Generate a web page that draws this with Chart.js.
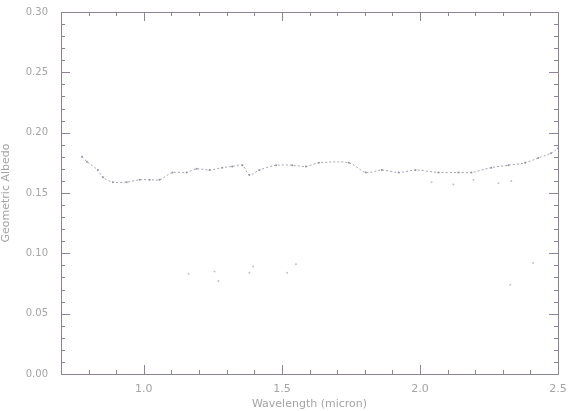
<!DOCTYPE html>
<html>
<head>
<meta charset="utf-8">
<script src="https://cdn.jsdelivr.net/npm/chart.js@4/dist/chart.umd.min.js"></script>
<style>
  html, body { margin: 0; padding: 0; background: #fff; }
  #wrap { width: 568px; height: 411px; }
</style>
</head>
<body>
<div id="wrap"><canvas id="spec"></canvas></div>
<script>
// wavelength (micron) and albedo
const wavelength = [0.776, 0.794, 0.833, 0.852, 0.888, 0.938, 0.985, 1.021, 1.057, 1.104,
  1.155, 1.191, 1.238, 1.284, 1.320, 1.357, 1.382, 1.418, 1.479, 1.537,
  1.587, 1.634, 1.743, 1.804, 1.862, 1.923, 1.984, 2.067, 2.139, 2.186,
  2.258, 2.320, 2.381, 2.428, 2.475, 2.500];
const albedo = [0.180, 0.176, 0.169, 0.163, 0.159, 0.159, 0.161, 0.161, 0.161, 0.167,
  0.167, 0.170, 0.169, 0.171, 0.172, 0.173, 0.165, 0.169, 0.173, 0.173,
  0.172, 0.175, 0.175, 0.167, 0.169, 0.167, 0.169, 0.167, 0.167, 0.167,
  0.171, 0.173, 0.175, 0.179, 0.183, 0.187];

// faint scattered points below the main spectrum
const extraWave = [2.042, 2.121, 2.194, 2.284, 2.331, 1.162, 1.256, 1.270, 1.382, 1.396, 1.519, 1.551, 2.327, 2.410];
const extraVal = [0.159, 0.157, 0.161, 0.158, 0.160, 0.083, 0.085, 0.077, 0.084, 0.089, 0.084, 0.091, 0.074, 0.092];

const xTicks = [1.0, 1.5, 2.0, 2.5];
const yTicks = [0.00, 0.05, 0.10, 0.15, 0.20, 0.25, 0.30];

const ink = "#8c8496";
const textCol = "#a4a4a4";

// box with inward major/minor ticks on all four sides, IDL style
const boxTicks = {
  id: "boxTicks",
  afterDraw(chart) {
    const { ctx, chartArea: a, scales } = chart;
    const x = scales.x, y = scales.y;
    ctx.save();
    ctx.strokeStyle = ink;
    ctx.lineWidth = 1;
    ctx.strokeRect(a.left + 0.5, a.top + 0.5, a.right - a.left, a.bottom - a.top);
    ctx.beginPath();
    for (let v = 0.7; v <= 2.5001; v += 0.1) {
      const px = Math.round(x.getPixelForValue(v)) + 0.5;
      const major = xTicks.some(t => Math.abs(t - v) < 1e-6);
      const len = major ? 9 : 4;
      ctx.moveTo(px, a.bottom); ctx.lineTo(px, a.bottom - len);
      ctx.moveTo(px, a.top); ctx.lineTo(px, a.top + len);
    }
    for (let v = 0; v <= 0.3001; v += 0.01) {
      const py = Math.round(y.getPixelForValue(v)) + 0.5;
      const major = yTicks.some(t => Math.abs(t - v) < 1e-6);
      const len = major ? 9 : 4;
      ctx.moveTo(a.left, py); ctx.lineTo(a.left + len, py);
      ctx.moveTo(a.right, py); ctx.lineTo(a.right - len, py);
    }
    ctx.stroke();
    ctx.restore();
  }
};

new Chart(document.getElementById("spec"), {
  type: "scatter",
  plugins: [boxTicks],
  data: {
    datasets: [
      {
        data: wavelength.map((w, i) => ({ x: w, y: albedo[i] })),
        showLine: true,
        borderColor: "#aaa2b2",
        borderWidth: 1,
        borderDash: [2, 2],
        pointRadius: 1,
        pointBackgroundColor: "#9a92a4",
        pointBorderWidth: 0,
        tension: 0.3
      },
      {
        data: extraWave.map((w, i) => ({ x: w, y: extraVal[i] })),
        pointRadius: 1,
        pointBackgroundColor: "#c4c0c8",
        pointBorderWidth: 0
      }
    ]
  },
  options: {
    responsive: true,
    maintainAspectRatio: false,
    animation: false,
    layout: { padding: { top: 12, right: 10, left: 0, bottom: 0 } },
    plugins: { legend: { display: false }, tooltip: { enabled: false } },
    scales: {
      x: {
        type: "linear",
        min: 0.7,
        max: 2.5,
        afterBuildTicks: (s) => { s.ticks = xTicks.map(v => ({ value: v })); },
        afterFit: (s) => { s.height = 37; },
        grid: { display: false },
        border: { display: false },
        ticks: {
          color: textCol,
          font: { family: "DejaVu Sans", size: 11 },
          padding: 1,
          maxRotation: 0,
          callback: (v) => v.toFixed(1)
        },
        title: {
          display: true,
          text: "Wavelength (micron)",
          color: textCol,
          font: { family: "DejaVu Sans", size: 11 },
          padding: { top: 2, bottom: 0 }
        }
      },
      y: {
        min: 0,
        max: 0.3,
        afterBuildTicks: (s) => { s.ticks = yTicks.map(v => ({ value: v })); },
        afterFit: (s) => { s.width = 61; },
        grid: { display: false },
        border: { display: false },
        ticks: {
          color: textCol,
          font: { family: "DejaVu Sans", size: 10 },
          padding: 5,
          callback: (v) => v.toFixed(2)
        },
        title: {
          display: true,
          text: "Geometric Albedo",
          color: textCol,
          font: { family: "DejaVu Sans", size: 11 },
          padding: { top: 0, bottom: 2 }
        }
      }
    }
  }
});
</script>
</body>
</html>
